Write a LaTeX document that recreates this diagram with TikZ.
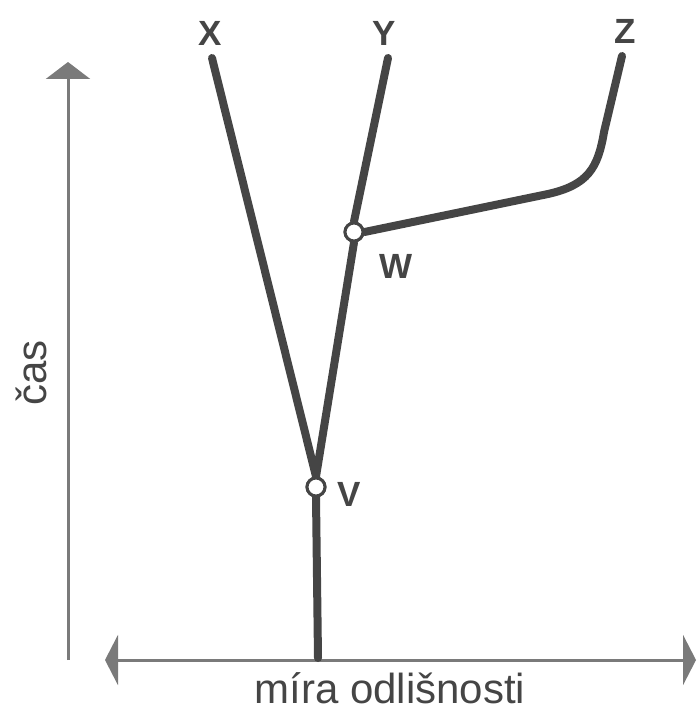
\documentclass[tikz,border=0pt]{standalone}
\usepackage{fontspec}
\setmainfont{Liberation Sans}
\usetikzlibrary{arrows.meta}
\definecolor{treec}{HTML}{454545}
\definecolor{axisc}{HTML}{7A7A7A}
\tikzset{
  branch/.style={draw=treec, line width=8pt, line cap=round, line join=round},
  axisline/.style={draw=axisc, line width=3pt},
  knot/.style={circle, draw=treec, fill=white, line width=3pt, minimum size=18pt, inner sep=0pt},
  leaf/.style={font=\bfseries\fontsize{35}{38}\selectfont, text=treec, inner sep=0pt},
  axlabel/.style={font=\fontsize{42}{48}\selectfont, text=treec, inner sep=0pt}
}
\begin{document}
\begin{tikzpicture}[x=1pt,y=-1pt]
\useasboundingbox (0,0) rectangle (697,711);
% axes
\coordinate (ybot) at (68,660);
\coordinate (ytop) at (68,62);
\coordinate (xl) at (105,660);
\coordinate (xr) at (696,660);
\draw[axisline, -{Triangle[width=44pt,length=17pt]}] (ybot) -- (ytop);
\draw[axisline, {Triangle[width=50pt,length=13pt]}-{Triangle[width=50pt,length=13pt]}] (xl) -- (xr);
\node[axlabel, rotate=90] (cas) at (31,373) {čas};
\node[axlabel] (mira) at (390,688) {míra odlišnosti};
% tree
\coordinate (root) at (318,658);
\coordinate (xe) at (212,58);
\coordinate (ye) at (388,58);
\coordinate (ze) at (622,56);
\node[knot] (v) at (316,487) {};
\node[knot] (w) at (354,232) {};
\draw[branch] (root) -- (v.south);
\draw[branch] (v.north) -- (xe);
\draw[branch] (v.north) -- (w.south);
\draw[branch] (w.north) -- (ye);
\draw[branch] (w.east) -- (548,194) .. controls (588,185) and (598,168) .. (604,132) -- (ze);
\node[knot] at (v) {};
\node[knot] at (w) {};
% labels
\node[leaf] (lx) at (210,33) {X};
\node[leaf] (ly) at (384,33) {Y};
\node[leaf] (lz) at (625,31) {Z};
\node[leaf] (lw) at (396,266) {W};
\node[leaf] (lv) at (349,494) {V};
\end{tikzpicture}
\end{document}
